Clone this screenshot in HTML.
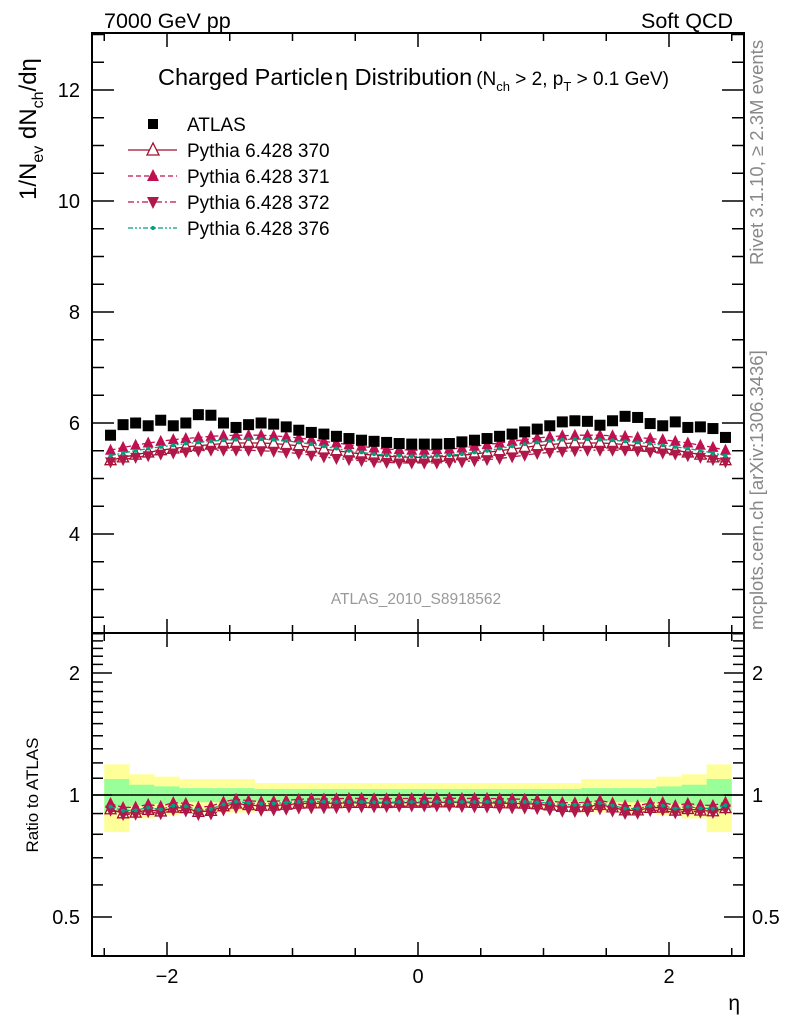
<!DOCTYPE html>
<html><head><meta charset="utf-8"><style>
body{margin:0;background:#fff;}
svg{display:block;font-family:"Liberation Sans",sans-serif;}
</style></head><body>
<svg id="c" width="786" height="1024" viewBox="0 0 786 1024">
<g id="bands"></g>
<g id="axes"></g>
<g id="marks"></g>
<text x="104" y="28" font-size="21.5">7000 GeV pp</text>
<text x="733" y="28" font-size="21.5" text-anchor="end">Soft QCD</text>
<text x="158" y="85" font-size="23.5">Charged Particle<tspan dx="2">η</tspan> Distribution<tspan font-size="19" dx="4">(N</tspan><tspan font-size="13" dy="6">ch</tspan><tspan font-size="19" dy="-6"> &gt; 2, p</tspan><tspan font-size="13" dy="6">T</tspan><tspan font-size="19" dy="-6"> &gt; 0.1 GeV)</tspan></text>
<text transform="translate(36,200) rotate(-90)" font-size="24">1/N<tspan font-size="16" dy="7">ev</tspan><tspan dy="-7"> dN</tspan><tspan font-size="16" dy="7">ch</tspan><tspan dy="-7">/dη</tspan></text>
<text transform="translate(38,795) rotate(-90)" font-size="17" text-anchor="middle">Ratio to ATLAS</text>
<text x="740" y="1010" font-size="21" text-anchor="end">η</text>
<text transform="translate(763,265) rotate(-90)" font-size="18.5" fill="#888">Rivet 3.1.10, ≥ 2.3M events</text>
<text transform="translate(763,630) rotate(-90)" font-size="18.5" fill="#888">mcplots.cern.ch [arXiv:1306.3436]</text>
<text x="416" y="604" font-size="15.5" fill="#999" text-anchor="middle">ATLAS_2010_S8918562</text>
<g id="legend"></g>
</svg>
<script>
const binCenters=[-2.45,-2.35,-2.25,-2.15,-2.05,-1.95,-1.85,-1.75,-1.65,-1.55,-1.45,-1.35,-1.25,-1.15,-1.05,-0.95,-0.85,-0.75,-0.65,-0.55,-0.45,-0.35,-0.25,-0.15,-0.05,0.05,0.15,0.25,0.35,0.45,0.55,0.65,0.75,0.85,0.95,1.05,1.15,1.25,1.35,1.45,1.55,1.65,1.75,1.85,1.95,2.05,2.15,2.25,2.35,2.45];
const atlas=[5.78,5.97,6.00,5.95,6.05,5.95,6.00,6.15,6.14,6.00,5.92,5.97,6.00,5.98,5.93,5.87,5.83,5.80,5.76,5.72,5.69,5.67,5.65,5.63,5.62,5.62,5.62,5.63,5.66,5.69,5.72,5.76,5.80,5.84,5.89,5.95,6.02,6.04,6.03,5.96,6.04,6.12,6.10,5.99,5.95,6.02,5.92,5.93,5.90,5.74];
const py370=[5.33,5.38,5.43,5.47,5.51,5.54,5.57,5.59,5.61,5.63,5.64,5.64,5.64,5.63,5.61,5.59,5.56,5.53,5.50,5.47,5.44,5.42,5.40,5.39,5.38,5.38,5.39,5.40,5.42,5.44,5.47,5.50,5.53,5.56,5.59,5.61,5.63,5.64,5.64,5.64,5.63,5.61,5.59,5.57,5.54,5.51,5.47,5.43,5.38,5.33];
const py371=[5.51,5.56,5.60,5.64,5.67,5.70,5.72,5.74,5.76,5.77,5.78,5.78,5.78,5.77,5.75,5.73,5.70,5.67,5.64,5.61,5.58,5.55,5.53,5.52,5.51,5.51,5.52,5.53,5.55,5.58,5.61,5.64,5.67,5.70,5.73,5.75,5.77,5.78,5.78,5.78,5.77,5.76,5.74,5.72,5.70,5.67,5.64,5.60,5.56,5.51];
const py372=[5.30,5.34,5.38,5.41,5.44,5.46,5.48,5.50,5.51,5.51,5.51,5.51,5.50,5.49,5.47,5.45,5.42,5.39,5.36,5.34,5.32,5.30,5.29,5.28,5.28,5.28,5.28,5.29,5.30,5.32,5.34,5.36,5.39,5.42,5.45,5.47,5.49,5.50,5.51,5.51,5.51,5.51,5.50,5.48,5.46,5.44,5.41,5.38,5.34,5.30];
const py376=[5.41,5.46,5.50,5.54,5.57,5.60,5.63,5.65,5.67,5.69,5.70,5.71,5.71,5.70,5.68,5.65,5.62,5.58,5.54,5.50,5.47,5.44,5.42,5.41,5.40,5.40,5.41,5.42,5.44,5.47,5.50,5.54,5.58,5.62,5.65,5.68,5.70,5.71,5.71,5.70,5.69,5.67,5.65,5.63,5.60,5.57,5.54,5.50,5.46,5.41];
const bandEdges=[-2.5,-2.3,-2.1,-1.9,-1.3,1.3,1.9,2.1,2.3,2.5];
const bandYellow=[1.19,1.125,1.11,1.095,1.07,1.095,1.11,1.125,1.19];
const bandGreen=[1.095,1.06,1.05,1.04,1.035,1.04,1.05,1.06,1.095];
const yTicks=[4,6,8,10,12];
const rTicks=[0.5,1,2];
const xTicks=[-2,0,2];

const NS="http://www.w3.org/2000/svg";
const L=92,R=744,T=33,M=633,B=956;
const xs=v=>418+v*125.5;
const ys=v=>423-(v-6)*55.5;
const rs=v=>795-Math.log10(v)*405.3;
function mk(tag,attrs,parent){const e=document.createElementNS(NS,tag);for(const k in attrs)e.setAttribute(k,attrs[k]);parent.appendChild(e);return e;}
const axes=document.getElementById('axes'),marks=document.getElementById('marks'),bands=document.getElementById('bands'),legend=document.getElementById('legend');

for(let i=0;i<bandYellow.length;i++){
  const x0=xs(bandEdges[i]),x1=xs(bandEdges[i+1]);
  const y=mk('rect',{x:x0,y:rs(bandYellow[i]),width:x1-x0,height:rs(2-bandYellow[i])-rs(bandYellow[i]),fill:'#ffff99'},bands);
  
  
  const g=mk('rect',{x:x0,y:rs(bandGreen[i]),width:x1-x0,height:rs(2-bandGreen[i])-rs(bandGreen[i]),fill:'#99ff99'},bands);
  
  
}
mk('line',{x1:L,x2:R,y1:rs(1),y2:rs(1),stroke:'#000','stroke-width':1.5},bands);

const f1=mk('rect',{x:L,y:T,width:R-L,height:M-T,fill:'none',stroke:'#000','stroke-width':2},axes);


const f2=mk('rect',{x:L,y:M,width:R-L,height:B-M,fill:'none',stroke:'#000','stroke-width':2},axes);


for(let v=-2.5;v<=2.51;v+=0.5){
  const major=Math.abs(v-Math.round(v/2)*2)<1e-6;const len=major?14:8;const x=xs(v);
  for(const [y0,d] of [[T,1],[M,-1],[M,1],[B,-1]]) mk('line',{x1:x,x2:x,y1:y0,y2:y0+d*len,stroke:'#000','stroke-width':1.5},axes);
}
xTicks.forEach(v=>{const t=mk('text',{x:xs(v),y:983,'font-size':20,'text-anchor':'middle'},axes);t.textContent=(v<0?'−':'')+Math.abs(v);

});
for(let v=2.5;v<=13;v+=0.5){
  const major=Math.abs(v%2)<1e-6;const len=major?22:12;const y=ys(v);if(y<T||y>M)continue;
  mk('line',{x1:L,x2:L+len,y1:y,y2:y,stroke:'#000','stroke-width':1.5},axes);
  mk('line',{x1:R,x2:R-len,y1:y,y2:y,stroke:'#000','stroke-width':1.5},axes);
}
yTicks.forEach(v=>{const t=mk('text',{x:80,y:ys(v)+7,'font-size':20,'text-anchor':'end'},axes);t.textContent=v;

});
const rMinor=[0.4,0.5,0.6,0.7,0.8,0.9,1,1.1,1.2,1.3,1.4,1.5,1.6,1.7,1.8,1.9,2,2.1,2.2,2.3,2.4,2.5];
rMinor.forEach(v=>{const major=rTicks.includes(v);const len=major?20:11;const y=rs(v);if(y<M||y>B)return;
  mk('line',{x1:L,x2:L+len,y1:y,y2:y,stroke:'#000','stroke-width':1.5},axes);
  mk('line',{x1:R,x2:R-len,y1:y,y2:y,stroke:'#000','stroke-width':1.5},axes);});
rTicks.forEach(v=>{const t=mk('text',{x:80,y:rs(v)+7,'font-size':20,'text-anchor':'end'},axes);t.textContent=v;


const t2=mk('text',{x:752,y:rs(v)+7,'font-size':20},axes);t2.textContent=v;

});

function marker(type,x,y,color,parent,s){
  s=s||5.5;
  if(type==='sq')return mk('rect',{x:x-5.5,y:y-5.5,width:11,height:11,fill:'#000'},parent);
  if(type==='up')return mk('polygon',{points:`${x},${y-s-1} ${x-s},${y+s-1} ${x+s},${y+s-1}`,fill:color},parent);
  if(type==='open')return mk('polygon',{points:`${x},${y-s-1} ${x-s},${y+s-1} ${x+s},${y+s-1}`,fill:'#fff',stroke:color,'stroke-width':1.3},parent);
  if(type==='down')return mk('polygon',{points:`${x},${y+s+1} ${x-s},${y-s+1} ${x+s},${y-s+1}`,fill:color},parent);
  if(type==='dot')return mk('circle',{cx:x,cy:y,r:2,fill:color},parent);
}
const series=[
  {name:'pythia-370',vals:py370,type:'open',color:'#a0102a',dash:''},
  {name:'pythia-371',vals:py371,type:'up',color:'#c0104f',dash:'5,3'},
  {name:'pythia-372',vals:py372,type:'down',color:'#b0184a',dash:'6,3,2,3'},
  {name:'pythia-376',vals:py376,type:'dot',color:'#00a080',dash:'5,2,2,2,2,2'}];
series.forEach(s=>{
  const g=mk('g',{},marks);
  
  
  mk('polyline',{points:binCenters.map((x,i)=>xs(x)+','+ys(s.vals[i])).join(' '),fill:'none',stroke:s.color,'stroke-width':1.3,'stroke-dasharray':s.dash},g);
  mk('polyline',{points:binCenters.map((x,i)=>xs(x)+','+rs(s.vals[i]/atlas[i])).join(' '),fill:'none',stroke:s.color,'stroke-width':1.3,'stroke-dasharray':s.dash},g);
  binCenters.forEach((x,i)=>{
    const m=marker(s.type,xs(x),ys(s.vals[i]),s.color,g);
    
    
    const r=marker(s.type,xs(x),rs(s.vals[i]/atlas[i]),s.color,g);
    
    
  });
});
const ga=mk('g',{},marks);


binCenters.forEach((x,i)=>{const m=marker('sq',xs(x),ys(atlas[i]),'#000',ga);
  
  });

const legItems=[{label:'ATLAS',type:'sq',color:'#000',dash:null},...series.map(s=>({label:'Pythia 6.428 '+s.name.slice(-3),type:s.type,color:s.color,dash:s.dash}))];
legItems.forEach((it,i)=>{
  const y=124+i*26;
  const g=mk('g',{},legend);
  
  
  if(it.dash!==null) mk('line',{x1:128,x2:177,y1:y,y2:y,stroke:it.color,'stroke-width':1.3,'stroke-dasharray':it.dash},g);
  if(it.type==='sq') mk('rect',{x:148,y:y-5,width:10,height:10,fill:'#000'},g);
  else marker(it.type,153,y,it.color,g,6);
  const t=mk('text',{x:187,y:y+7,'font-size':19},g);t.textContent=it.label;
});
</script>
</body></html>
